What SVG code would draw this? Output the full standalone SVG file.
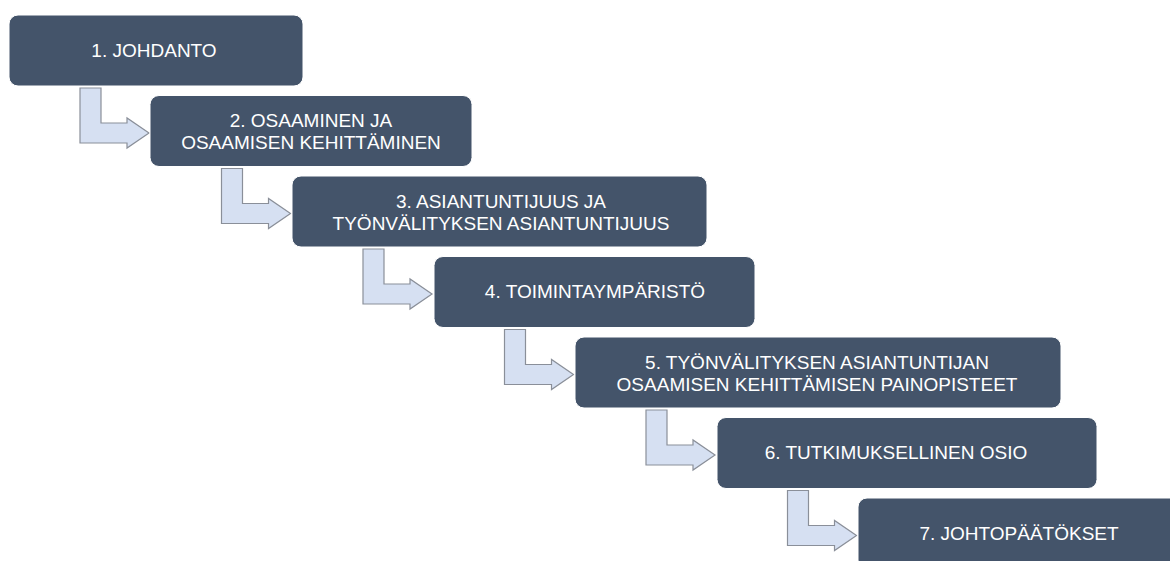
<svg xmlns="http://www.w3.org/2000/svg" width="1170" height="561" viewBox="0 0 1170 561">
  <defs>
    <style>
      .step rect { fill: #44546A; stroke: #FFFFFF; stroke-width: 1; }
      .step text { fill: #FFFFFF; font-family: "Liberation Sans", Arial, sans-serif; font-size: 19px; text-anchor: middle; }
      .bent { fill: #D6E0F2; stroke: #8A8F99; stroke-width: 1.2; stroke-linejoin: miter; }
    </style>
    <!-- bent arrow: down from one step, then right into the next -->
    <polygon id="bentArrow" points="80,88 101,88 101,123 127,123 127,118 149,133 127,148 127,143 80,143"/>
  </defs>
  <rect width="1170" height="561" fill="#FFFFFF"/>

  <g id="connectors">
    <use href="#bentArrow" class="bent"/>
    <use href="#bentArrow" class="bent" transform="translate(141.5,80.5)"/>
    <use href="#bentArrow" class="bent" transform="translate(283,161)"/>
    <use href="#bentArrow" class="bent" transform="translate(424.5,241.5)"/>
    <use href="#bentArrow" class="bent" transform="translate(566,322)"/>
    <use href="#bentArrow" class="bent" transform="translate(707.5,402.5)"/>
  </g>

  <g id="step1" class="step">
    <rect x="9" y="15" width="294" height="71" rx="9"/>
    <text x="154" y="56.5">1. JOHDANTO</text>
  </g>
  <g id="step2" class="step">
    <rect x="150" y="95.5" width="322" height="71" rx="9"/>
    <text x="311" y="127">2. OSAAMINEN JA</text>
    <text x="311" y="149">OSAAMISEN KEHITTÄMINEN</text>
  </g>
  <g id="step3" class="step">
    <rect x="292" y="176" width="415" height="71" rx="9"/>
    <text x="501" y="207.5">3. ASIANTUNTIJUUS JA</text>
    <text x="501" y="229.5">TYÖNVÄLITYKSEN ASIANTUNTIJUUS</text>
  </g>
  <g id="step4" class="step">
    <rect x="434" y="256.5" width="321" height="71" rx="9"/>
    <text x="595" y="298">4. TOIMINTAYMPÄRISTÖ</text>
  </g>
  <g id="step5" class="step">
    <rect x="575" y="337" width="486" height="71" rx="9"/>
    <text x="817" y="368.5">5. TYÖNVÄLITYKSEN ASIANTUNTIJAN</text>
    <text x="817" y="390.5">OSAAMISEN KEHITTÄMISEN PAINOPISTEET</text>
  </g>
  <g id="step6" class="step">
    <rect x="717" y="417.5" width="380" height="71" rx="9"/>
    <text x="896" y="459">6. TUTKIMUKSELLINEN OSIO</text>
  </g>
  <g id="step7" class="step">
    <rect x="858" y="498" width="330" height="71" rx="9"/>
    <text x="1019" y="539.5">7. JOHTOPÄÄTÖKSET</text>
  </g>
</svg>
